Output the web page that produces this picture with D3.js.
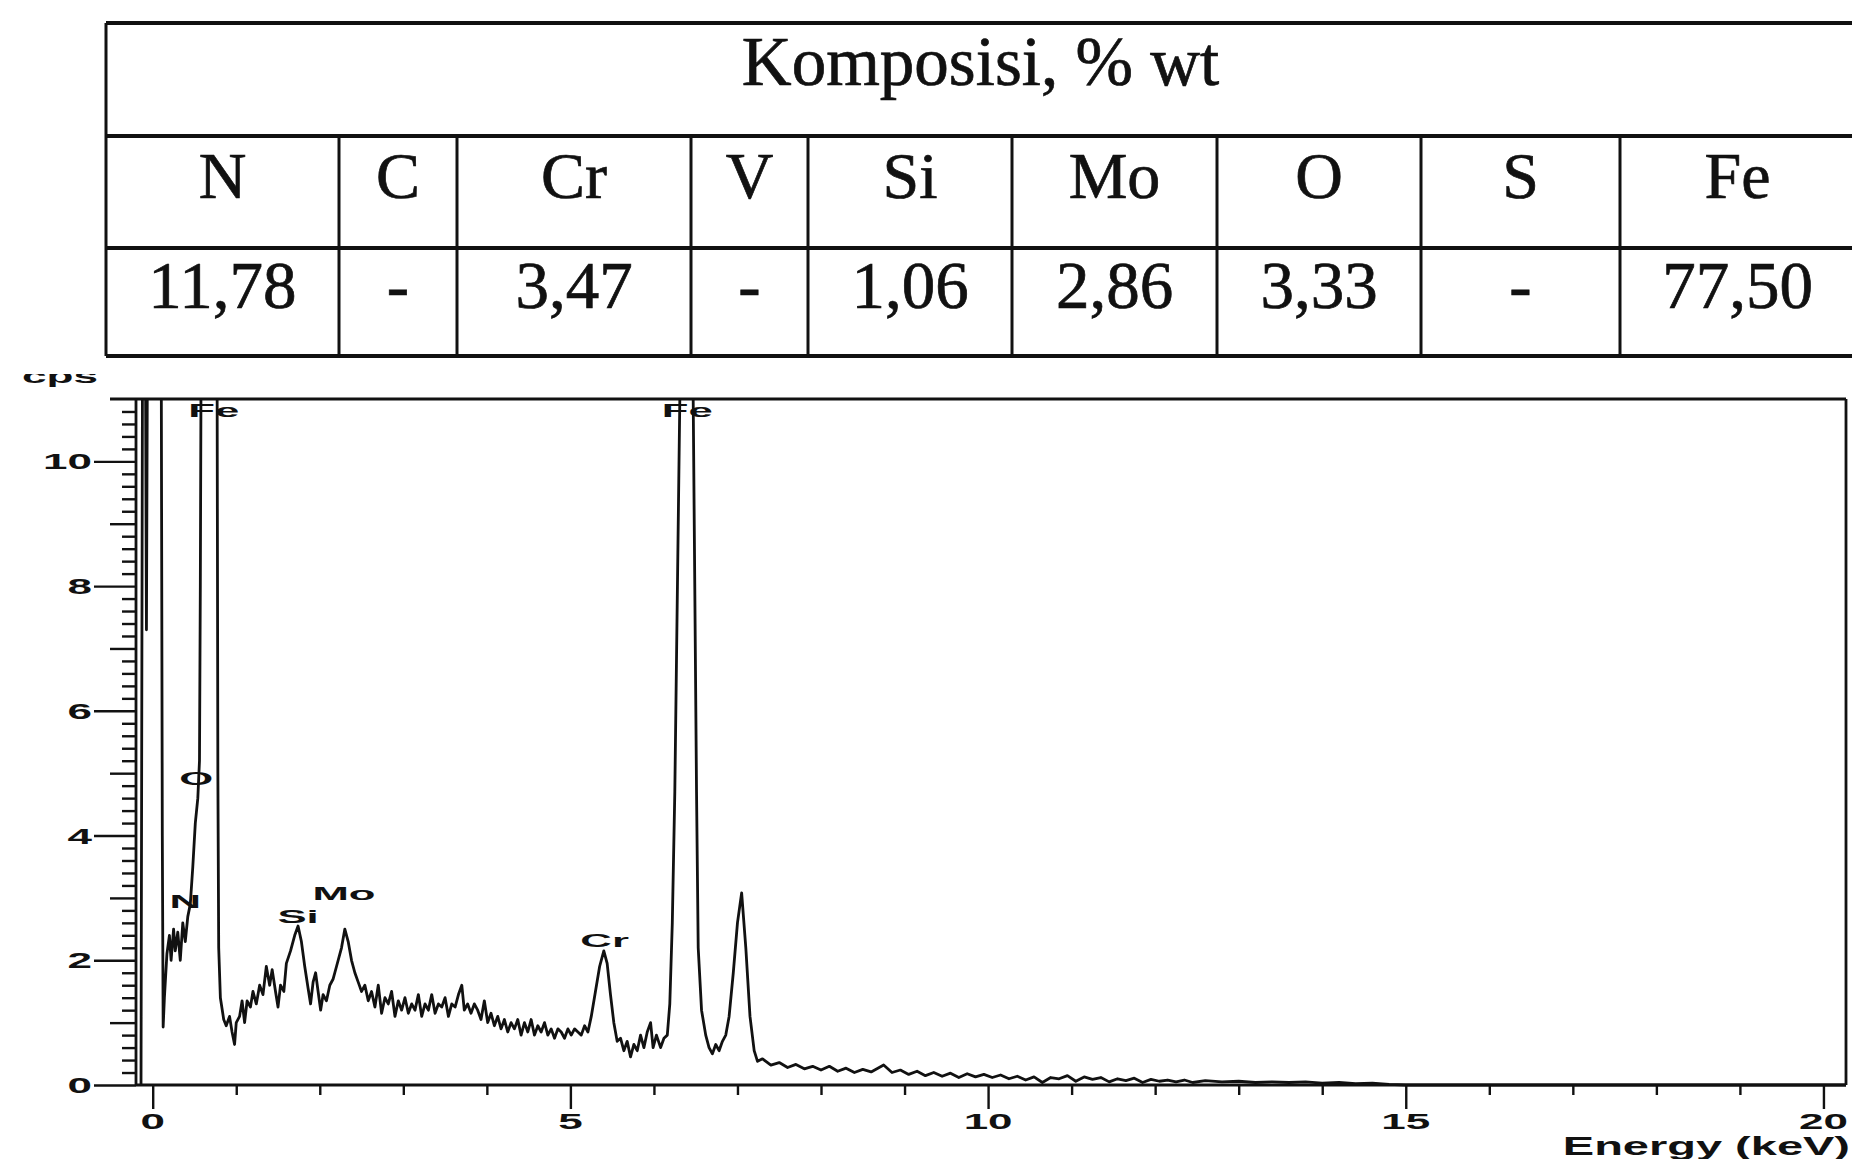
<!DOCTYPE html>
<html>
<head>
<meta charset="utf-8">
<script src="https://cdn.jsdelivr.net/npm/d3@7"></script>
<style>
  body { margin: 0; background: #fff; }
  svg { display: block; }
</style>
</head>
<body>
<svg id="chart"></svg>
<script>
// composition table
const tableTitle = 'Komposisi, % wt';
const elements = ['N', 'C', 'Cr', 'V', 'Si', 'Mo', 'O', 'S', 'Fe'];
const composition = ['11,78', '-', '3,47', '-', '1,06', '2,86', '3,33', '-', '77,50'];

// EDS spectrum, [energy keV, cps]
const noisePeak = [[-0.14, 0], [-0.12, 13], [-0.09, 13], [-0.075, 7.3], [-0.06, 13], [0.05, 16],
  [0.10, 13], [0.115, 4], [0.125, 0.93]];
const lightPeaks = [[0.14, 1.4], [0.17, 2.1], [0.20, 2.4], [0.22, 2.0], [0.25, 2.5], [0.27, 2.15],
  [0.30, 2.45], [0.33, 2.0], [0.36, 2.6], [0.39, 2.3], [0.42, 2.7], [0.45, 2.9], [0.48, 3.5],
  [0.51, 4.2], [0.54, 4.6], [0.56, 5.2], [0.57, 8], [0.58, 12], [0.70, 15], [0.77, 12],
  [0.78, 5], [0.79, 2.2], [0.81, 1.4], [0.85, 1.05]];
const siMoRegion = [[0.88, 0.95], [0.92, 1.1], [0.95, 0.85], [0.98, 0.65], [1.00, 1.0], [1.04, 1.1],
  [1.07, 1.35], [1.10, 1.0], [1.13, 1.35], [1.17, 1.25], [1.20, 1.5], [1.24, 1.3], [1.28, 1.6],
  [1.32, 1.45], [1.36, 1.9], [1.40, 1.6], [1.43, 1.85], [1.47, 1.5], [1.50, 1.25], [1.53, 1.6],
  [1.57, 1.5], [1.60, 1.95], [1.65, 2.15], [1.70, 2.4], [1.74, 2.55], [1.78, 2.3], [1.82, 1.9],
  [1.86, 1.55], [1.89, 1.3], [1.92, 1.65], [1.95, 1.8], [1.98, 1.5], [2.01, 1.2], [2.04, 1.45],
  [2.08, 1.35], [2.12, 1.6], [2.16, 1.7], [2.20, 1.9], [2.26, 2.2], [2.30, 2.5], [2.34, 2.3],
  [2.38, 2.0], [2.42, 1.8], [2.46, 1.65], [2.50, 1.5]];
const continuum = [[2.54, 1.6], [2.58, 1.35], [2.62, 1.5], [2.66, 1.25], [2.70, 1.6], [2.74, 1.15],
  [2.78, 1.4], [2.82, 1.3], [2.86, 1.5], [2.90, 1.1], [2.94, 1.35], [2.98, 1.2], [3.02, 1.4],
  [3.06, 1.15], [3.10, 1.3], [3.14, 1.2], [3.18, 1.45], [3.22, 1.1], [3.26, 1.3], [3.30, 1.2],
  [3.34, 1.45], [3.38, 1.15], [3.42, 1.3], [3.46, 1.25], [3.50, 1.4], [3.54, 1.1], [3.58, 1.3],
  [3.62, 1.25], [3.66, 1.45], [3.70, 1.6], [3.73, 1.2], [3.77, 1.3], [3.81, 1.15], [3.85, 1.3],
  [3.89, 1.2], [3.93, 1.05], [3.97, 1.35], [4.01, 1.0], [4.05, 1.15], [4.09, 0.95], [4.13, 1.1],
  [4.17, 0.9], [4.21, 1.05], [4.25, 0.85], [4.29, 1.0], [4.33, 0.9], [4.37, 1.05], [4.41, 0.8],
  [4.45, 1.0], [4.49, 0.85], [4.53, 1.05], [4.57, 0.8], [4.61, 0.95], [4.65, 0.85], [4.69, 1.0],
  [4.73, 0.8], [4.77, 0.9], [4.81, 0.75], [4.85, 0.9], [4.89, 0.85], [4.93, 0.75], [4.97, 0.9],
  [5.01, 0.8], [5.05, 0.9], [5.09, 0.85], [5.13, 0.8], [5.17, 0.95], [5.21, 0.85]];
const crFeRegion = [[5.25, 1.1], [5.30, 1.5], [5.35, 1.9], [5.40, 2.15], [5.44, 1.95], [5.48, 1.45],
  [5.52, 1.0], [5.56, 0.7], [5.60, 0.75], [5.64, 0.55], [5.68, 0.7], [5.72, 0.45], [5.76, 0.65],
  [5.80, 0.55], [5.84, 0.8], [5.88, 0.6], [5.92, 0.85], [5.96, 1.0], [5.99, 0.6], [6.03, 0.8],
  [6.08, 0.6], [6.12, 0.75], [6.16, 0.8], [6.19, 1.3], [6.22, 2.6], [6.25, 4.7], [6.31, 11],
  [6.38, 16], [6.47, 11], [6.51, 4.7], [6.53, 2.2], [6.57, 1.2], [6.62, 0.8], [6.66, 0.6],
  [6.70, 0.5], [6.74, 0.65], [6.78, 0.55], [6.82, 0.7], [6.86, 0.8], [6.90, 1.1], [6.95, 1.8],
  [7.00, 2.6], [7.05, 3.08], [7.10, 2.2], [7.15, 1.1], [7.20, 0.55], [7.24, 0.38]];
const tail = [[7.3, 0.42], [7.4, 0.32], [7.5, 0.36], [7.6, 0.28], [7.7, 0.33], [7.8, 0.26],
  [7.9, 0.30], [8.0, 0.24], [8.1, 0.30], [8.2, 0.22], [8.3, 0.27], [8.4, 0.20], [8.5, 0.25],
  [8.6, 0.21], [8.75, 0.32], [8.85, 0.2], [8.95, 0.24], [9.05, 0.17], [9.15, 0.22], [9.25, 0.15],
  [9.35, 0.2], [9.45, 0.14], [9.55, 0.19], [9.65, 0.12], [9.75, 0.18], [9.85, 0.13], [9.95, 0.17],
  [10.05, 0.12], [10.15, 0.16], [10.25, 0.1], [10.35, 0.14], [10.45, 0.08], [10.55, 0.13],
  [10.65, 0.04], [10.75, 0.12], [10.85, 0.1], [10.95, 0.15], [11.05, 0.06], [11.15, 0.13],
  [11.25, 0.09], [11.35, 0.12], [11.45, 0.05], [11.55, 0.1], [11.65, 0.07], [11.75, 0.11],
  [11.85, 0.04], [11.95, 0.09], [12.05, 0.06], [12.15, 0.08], [12.25, 0.05], [12.35, 0.08],
  [12.45, 0.04], [12.6, 0.07], [12.8, 0.05], [13.0, 0.06], [13.2, 0.04], [13.4, 0.05],
  [13.6, 0.04], [13.8, 0.05], [14.0, 0.03], [14.2, 0.04], [14.4, 0.02], [14.6, 0.03],
  [14.8, 0.01], [15.0, 0], [20.3, 0]];

// peak markers
const peakNames = ['N', 'O', 'Fe', 'Si', 'Mo', 'Cr', 'Fe'];
const peakEnergy = [0.39, 0.52, 0.73, 1.74, 2.29, 5.41, 6.40];
const peakLabelCps = [2.84, 4.81, 10.71, 2.60, 2.97, 2.21, 10.71];

const xTickLabels = [0, 5, 10, 15, 20];
const yTickLabels = [0, 2, 4, 6, 8, 10];

const W = 1852, H = 1159;
const svg = d3.select('#chart')
  .attr('width', W)
  .attr('height', H)
  .style('background', '#fff');

// ---- table ----
const colEdges = [106, 339, 457, 691, 808, 1012, 1217, 1421, 1620, 1855];
const rowY = [23, 136, 248, 356];
const serif = "'Liberation Serif', 'Times New Roman', serif";
const table = svg.append('g').attr('stroke', '#111').attr('fill', 'none');

rowY.forEach(y => {
  table.append('line')
    .attr('x1', colEdges[0]).attr('x2', colEdges[colEdges.length - 1])
    .attr('y1', y).attr('y2', y)
    .attr('stroke-width', 4);
});
table.append('line')
  .attr('x1', colEdges[0]).attr('x2', colEdges[0])
  .attr('y1', rowY[0]).attr('y2', rowY[3])
  .attr('stroke-width', 3);
table.selectAll('.col')
  .data(colEdges.slice(1))
  .join('line')
  .attr('class', 'col')
  .attr('x1', d => d).attr('x2', d => d)
  .attr('y1', rowY[1]).attr('y2', rowY[3])
  .attr('stroke-width', 3);

// scanned print is a bit heavy, so give the serif text a thin outline
function serifText(sel, size) {
  return sel
    .attr('text-anchor', 'middle')
    .attr('font-family', serif)
    .attr('font-size', size)
    .attr('fill', '#111')
    .attr('stroke', '#111')
    .attr('stroke-width', 0.7);
}

serifText(svg.append('text'), 69)
  .attr('x', (colEdges[0] + colEdges[colEdges.length - 1]) / 2)
  .attr('y', 85)
  .text(tableTitle);

const cellCenter = i => (colEdges[i] + colEdges[i + 1]) / 2;

serifText(svg.selectAll('.el').data(elements).join('text'), 66)
  .attr('class', 'el')
  .attr('x', (d, i) => cellCenter(i))
  .attr('y', 198)
  .text(d => d);

serifText(svg.selectAll('.val').data(composition).join('text'), 67)
  .attr('class', 'val')
  .attr('x', (d, i) => cellCenter(i))
  .attr('y', 308)
  .text(d => d);

// ---- spectrum ----
const plot = { left: 136, right: 1846, top: 399, bottom: 1085 };
const x = d3.scaleLinear().domain([-0.2, 20.27]).range([plot.left, plot.right]);
const y = d3.scaleLinear().domain([0, 11]).range([plot.bottom, plot.top]);

const sans = "'Liberation Sans', Arial, sans-serif";

// stretched plotter-style text
function wideText(g, tx, ty, str, size, sx, anchor) {
  return g.append('text')
    .attr('transform', `translate(${tx},${ty}) scale(${sx},1)`)
    .attr('text-anchor', anchor)
    .attr('font-family', sans)
    .attr('font-weight', 'bold')
    .attr('font-size', size)
    .attr('fill', '#111')
    .text(str);
}

svg.append('clipPath').attr('id', 'plot-clip')
  .append('rect')
  .attr('x', plot.left).attr('y', plot.top)
  .attr('width', plot.right - plot.left).attr('height', plot.bottom - plot.top + 2);

const spectrum = [].concat(noisePeak, lightPeaks, siMoRegion, continuum, crFeRegion, tail);
const line = d3.line().x(d => x(d[0])).y(d => y(d[1]));

svg.append('path')
  .datum(spectrum)
  .attr('clip-path', 'url(#plot-clip)')
  .attr('fill', 'none')
  .attr('stroke', '#111')
  .attr('stroke-width', 2.8)
  .attr('stroke-linejoin', 'round')
  .attr('d', line);

// frame
const frame = svg.append('g').attr('stroke', '#111').attr('stroke-width', 2.8);
frame.append('line').attr('x1', plot.left - 26).attr('x2', plot.right).attr('y1', plot.top).attr('y2', plot.top);
frame.append('line').attr('x1', plot.right).attr('x2', plot.right).attr('y1', plot.top).attr('y2', plot.bottom);
frame.append('line').attr('x1', plot.left).attr('x2', plot.left).attr('y1', plot.top).attr('y2', plot.bottom);
frame.append('line').attr('x1', plot.left).attr('x2', plot.right).attr('y1', plot.bottom).attr('y2', plot.bottom);

// y axis ticks: minor every 0.2, medium at odd, major at even
const yMinor = d3.range(1, 55).filter(i => i % 5 !== 0).map(i => i / 5);
const yOdd = [1, 3, 5, 7, 9];

function tickAxis(axis, values, size, tx, ty) {
  const g = svg.append('g')
    .attr('transform', `translate(${tx},${ty})`)
    .call(axis.tickValues(values).tickSize(size).tickFormat(''));
  g.select('.domain').remove();
  g.selectAll('line').attr('stroke', '#111').attr('stroke-width', 2.4);
  return g;
}

tickAxis(d3.axisLeft(y), yMinor, 14, plot.left, 0);
tickAxis(d3.axisLeft(y), yOdd, 26, plot.left, 0);
tickAxis(d3.axisLeft(y), yTickLabels, 42, plot.left, 0);

const yLab = svg.append('g');
yTickLabels.forEach(v => {
  wideText(yLab, plot.left - 44, y(v) + 8, String(v), 22, 2.0, 'end');
});

// x axis ticks: minor every keV, major every 5
const xMinor = d3.range(1, 21).filter(v => v % 5 !== 0);
tickAxis(d3.axisBottom(x), xMinor, 10, 0, plot.bottom);
tickAxis(d3.axisBottom(x), xTickLabels, 24, 0, plot.bottom);

const xLab = svg.append('g');
xTickLabels.forEach(v => {
  wideText(xLab, x(v), 1129, String(v), 22, 2.0, 'middle');
});

wideText(svg, 1850, 1155, 'Energy (keV)', 25, 1.88, 'end');

// y unit, top partly hidden under the table as in the scan
svg.append('clipPath').attr('id', 'cps-clip')
  .append('rect').attr('x', 0).attr('y', 374).attr('width', 130).attr('height', 30);
wideText(svg.append('g').attr('clip-path', 'url(#cps-clip)'), 22, 383, 'cps', 21, 2.1, 'start');

// peak labels
const peaks = svg.append('g');
peakNames.forEach((name, i) => {
  wideText(peaks, x(peakEnergy[i]), y(peakLabelCps[i]), name, 19, 2.3, 'middle');
});
</script>
</body>
</html>
